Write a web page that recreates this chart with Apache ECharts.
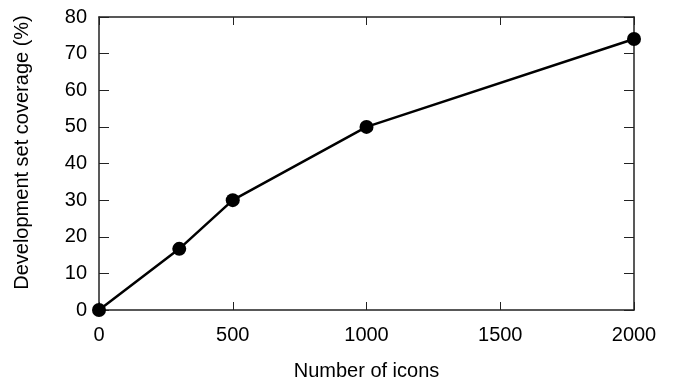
<!DOCTYPE html>
<html lang="en" style="height: 100%">
<head>
<meta charset="utf-8">
<title>Development set coverage</title>
</head>
<body style="height: 100%; margin: 0; background: #fff">
<div id="container" style="width: 675px; height: 383px"></div>
<script type="text/javascript" src="https://cdn.jsdelivr.net/npm/echarts/dist/echarts.min.js"></script>
<script type="text/javascript">
// data
var iconCounts = [0, 300, 500, 1000, 2000];
var coverage = [0, 16.7, 30, 50, 74];

var font = 'Liberation Sans, Arial, Helvetica, sans-serif';
var points = iconCounts.map(function (n, i) { return [n, coverage[i]]; });

var chart = echarts.init(document.getElementById('container'), null, { renderer: 'canvas' });

var lineStyle = { color: '#222', width: 1.5 };
var plain = function (v) { return String(v); };

option = {
    animation: false,
    grid: { left: 99, right: 41, top: 17, bottom: 73, outerBoundsMode: 'none', containLabel: false },
    xAxis: [{
        type: 'value', min: 0, max: 2000, interval: 500,
        name: 'Number of icons', nameLocation: 'middle', nameGap: 51,
        nameTextStyle: { fontFamily: font, fontSize: 20, color: '#000' },
        axisLine: { show: true, onZero: false, lineStyle: lineStyle },
        axisTick: { show: true, inside: true, length: 8, lineStyle: { color: '#222', width: 1 } },
        axisLabel: { fontFamily: font, fontSize: 20, color: '#000', margin: 15, formatter: plain },
        splitLine: { show: false }
    }, {
        type: 'value', min: 0, max: 2000, interval: 500, position: 'top',
        axisLine: { show: true, onZero: false, lineStyle: lineStyle },
        axisTick: { show: true, inside: true, length: 8, lineStyle: { color: '#222', width: 1 } },
        axisLabel: { show: false },
        splitLine: { show: false }
    }],
    yAxis: [{
        type: 'value', min: 0, max: 80, interval: 10,
        name: 'Development set coverage (%)', nameLocation: 'middle', nameGap: 67,
        nameTextStyle: { fontFamily: font, fontSize: 20, color: '#000', padding: [0, 0, 0, 22] },
        axisLine: { show: true, onZero: false, lineStyle: lineStyle },
        axisTick: { show: true, inside: true, length: 10, lineStyle: { color: '#222', width: 1 } },
        axisLabel: { fontFamily: font, fontSize: 20, color: '#000', margin: 12 },
        splitLine: { show: false }
    }, {
        type: 'value', min: 0, max: 80, interval: 10, position: 'right',
        axisLine: { show: true, onZero: false, lineStyle: lineStyle },
        axisTick: { show: true, inside: true, length: 10, lineStyle: { color: '#222', width: 1 } },
        axisLabel: { show: false },
        splitLine: { show: false }
    }],
    series: [{
        type: 'line',
        data: points,
        symbol: 'circle',
        symbolSize: 14,
        itemStyle: { color: '#000' },
        lineStyle: { color: '#000', width: 2.5 },
        clip: false
    }]
};

chart.setOption(option);
</script>
</body>
</html>
